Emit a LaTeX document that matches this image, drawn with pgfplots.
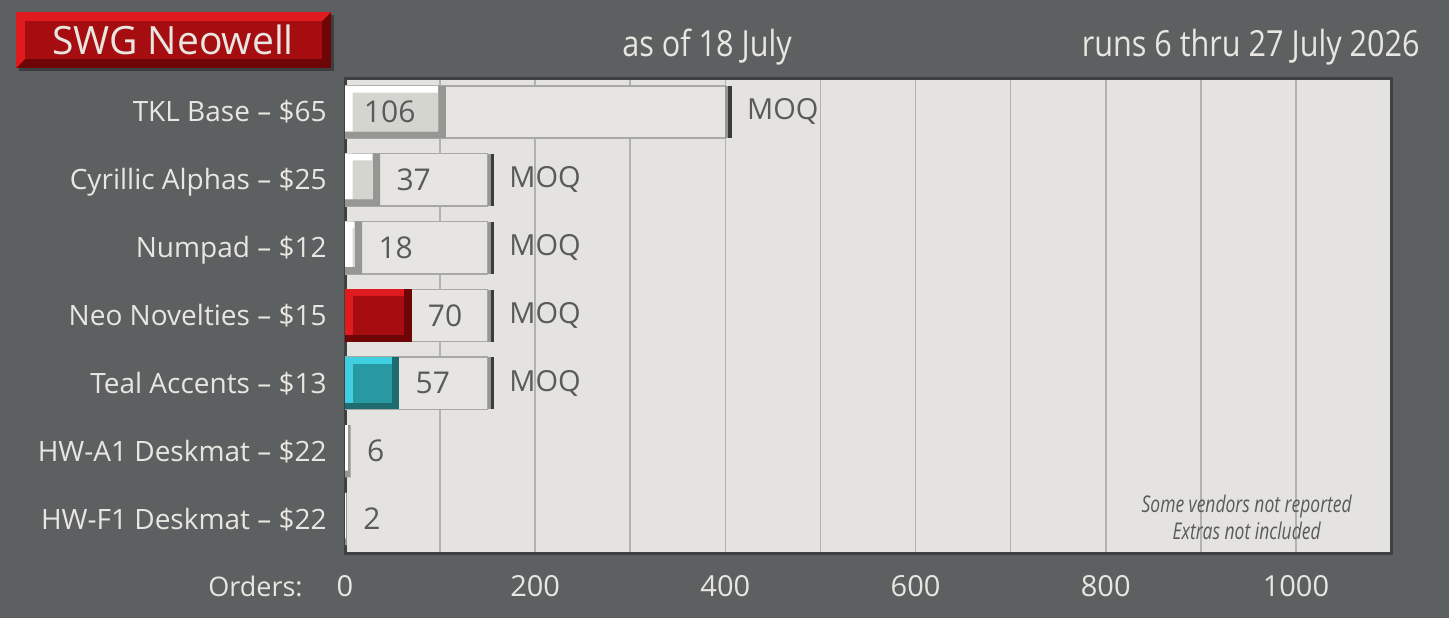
\documentclass[border=0pt]{standalone}
\usepackage{pgfplots}
\pgfplotsset{compat=1.18}
\usepackage{pgfplotstable}
\usepackage{fontspec}
\setmainfont{Open Sans}
\newfontfamily\condfont[FakeStretch=0.85]{Open Sans}
\newfontfamily\notefont[FakeStretch=0.76]{Open Sans}
\definecolor{bg}{RGB}{93,96,97}
\definecolor{lighttext}{RGB}{232,230,224}
\definecolor{plotbg}{RGB}{228,227,223}
\definecolor{gridc}{RGB}{178,178,174}
\definecolor{darktext}{RGB}{88,90,91}
\definecolor{axisc}{RGB}{62,65,66}
\definecolor{moqfill}{RGB}{230,229,225}
\definecolor{moqedge}{RGB}{168,168,164}
\definecolor{capdark}{RGB}{58,61,62}
\definecolor{capgray}{RGB}{150,150,147}
\definecolor{gface}{RGB}{213,213,208}
\definecolor{glight}{RGB}{255,255,255}
\definecolor{gdark}{RGB}{150,150,147}
\definecolor{rface}{RGB}{165,13,16}
\definecolor{rlight}{RGB}{224,27,32}
\definecolor{rdark}{RGB}{110,6,8}
\definecolor{tface}{RGB}{40,152,162}
\definecolor{tlight}{RGB}{62,207,224}
\definecolor{tdark}{RGB}{30,107,112}

\pgfplotstableread{
y v
1 106
2 37
3 18
6 6
7 2
}\graybars
\pgfplotstableread{
y v
4 70
}\redbars
\pgfplotstableread{
y v
5 57
}\tealbars
\pgfplotstableread{
y moq
1 400
2 150
3 150
4 150
5 150
}\moqbars
\pgfplotstableread{
y v
2 37
3 18
4 70
5 57
6 6
7 2
}\labelsout
\pgfplotstableread{
y v
1 106
}\labelsin

\begin{document}
\begin{tikzpicture}[x=1pt,y=1pt]
\fill[bg] (0,0) rectangle (724.5,309);
% title box
\fill[black,opacity=0.35] (9.5,273.5) rectangle (167,301.5);
\fill[rdark] (8,275) rectangle (165.5,303);
\fill[rlight] (8,275) -- (8,303) -- (165.5,303) -- (161,298.5) -- (12.5,298.5) -- (12.5,279.5) -- cycle;
\fill[rface] (12.5,279.5) rectangle (161,298.5);
\node[anchor=base, inner sep=0pt, text=lighttext, font=\fontsize{19.5}{22}\selectfont] at (86.5,282) {SWG Neowell};
\node[anchor=base, inner sep=0pt, text=lighttext, font=\condfont\fontsize{18}{21}\selectfont] at (353.5,281) {as of 18 July};
\node[anchor=base east, inner sep=0pt, text=lighttext, font=\condfont\fontsize{18}{21}\selectfont] at (710,281) {runs 6 thru 27 July 2026};
\node[anchor=base east, inner sep=0pt, text=lighttext, font=\fontsize{13.5}{16}\selectfont] at (151.5,11) {Orders:};
\begin{axis}[
  at={(172.5pt,32.5pt)}, anchor=south west,
  scale only axis, width=523pt, height=237.5pt,
  xmin=0, xmax=1100, ymin=0.5, ymax=7.5, y dir=reverse,
  axis background/.style={fill=plotbg},
  axis line style={axisc, line width=1.5pt},
  xtick={0,200,...,1000}, minor xtick={100,300,...,1100},
  xmajorgrids, xminorgrids,
  major grid style={gridc, line width=0.8pt},
  minor grid style={gridc, line width=0.8pt},
  major tick length=0pt, minor tick length=0pt,
  ytick={1,...,7},
  yticklabels={TKL Base -- \$65, Cyrillic Alphas -- \$25, Numpad -- \$12, Neo Novelties -- \$15, Teal Accents -- \$13, HW-A1 Deskmat -- \$22, HW-F1 Deskmat -- \$22},
  yticklabel style={anchor=base east, inner sep=0pt, xshift=-9pt, yshift=-5pt, text=lighttext, font=\fontsize{14}{16}\selectfont},
  xticklabel style={anchor=base, inner sep=0pt, yshift=-21.5pt, text=lighttext, font=\fontsize{14.5}{16}\selectfont},
  /pgf/number format/assume math mode=true,
  /pgf/number format/1000 sep={},
  clip=true,
]
% MOQ bars
\addplot[xbar, bar width=0.77, bar shift=0pt, fill=moqfill, draw=moqedge, line width=0.75pt,
  nodes near coords={MOQ}, every node near coord/.append style={anchor=west, inner sep=0pt, xshift=10.5pt, text=darktext, font=\fontsize{14.5}{16}\selectfont}]
  table[x=moq, y=y] {\moqbars};
\addplot[only marks, mark=|, mark size=13pt, line width=1.6pt, mark options={capgray, xshift=0.8pt}] table[x=moq, y=y] {\moqbars};
\addplot[only marks, mark=|, mark size=13pt, line width=1.8pt, mark options={capdark, xshift=2.4pt}] table[x=moq, y=y] {\moqbars};
% gray value bars
\addplot[xbar, bar width=0.77, bar shift=0pt, fill=gdark, draw=none] table[x=v, y=y] {\graybars};
\addplot[xbar, bar width=0.67, bar shift=0pt, fill=glight, draw=none] table[x expr=\thisrow{v}-8, y expr=\thisrow{y}-0.05] {\graybars};
\addplot[xbar, bar width=0.57, bar shift=0pt, fill=gface, draw=none] table[x expr=\thisrow{v}-8, y=y] {\graybars};
\addplot[xbar, bar width=0.67, bar shift=0pt, fill=glight, draw=none] table[x expr={min(\thisrow{v}/2,8)}, y expr=\thisrow{y}-0.05] {\graybars};
% red
\addplot[xbar, bar width=0.77, bar shift=0pt, fill=rdark, draw=none] table[x=v, y=y] {\redbars};
\addplot[xbar, bar width=0.67, bar shift=0pt, fill=rlight, draw=none] table[x expr=\thisrow{v}-8, y expr=\thisrow{y}-0.05] {\redbars};
\addplot[xbar, bar width=0.57, bar shift=0pt, fill=rface, draw=none] table[x expr=\thisrow{v}-8, y=y] {\redbars};
\addplot[xbar, bar width=0.67, bar shift=0pt, fill=rlight, draw=none] table[x expr={min(\thisrow{v}/2,8)}, y expr=\thisrow{y}-0.05] {\redbars};
% teal
\addplot[xbar, bar width=0.77, bar shift=0pt, fill=tdark, draw=none] table[x=v, y=y] {\tealbars};
\addplot[xbar, bar width=0.67, bar shift=0pt, fill=tlight, draw=none] table[x expr=\thisrow{v}-8, y expr=\thisrow{y}-0.05] {\tealbars};
\addplot[xbar, bar width=0.57, bar shift=0pt, fill=tface, draw=none] table[x expr=\thisrow{v}-8, y=y] {\tealbars};
\addplot[xbar, bar width=0.67, bar shift=0pt, fill=tlight, draw=none] table[x expr={min(\thisrow{v}/2,8)}, y expr=\thisrow{y}-0.05] {\tealbars};
% value labels
\addplot[xbar, bar width=0.1, bar shift=0pt, draw=none, fill=none, point meta=x,
  nodes near coords, every node near coord/.append style={anchor=west, inner sep=0pt, xshift=8pt, text=darktext, font=\fontsize{15}{17}\selectfont}]
  table[x=v, y=y] {\labelsout};
\addplot[xbar, bar width=0.1, bar shift=0pt, draw=none, fill=none, point meta=x,
  nodes near coords, every node near coord/.append style={anchor=east, inner sep=0pt, xshift=-15pt, text=darktext, font=\fontsize{15}{17}\selectfont}]
  table[x=v, y=y] {\labelsin};
\node[align=center, text=darktext, inner sep=0pt, font=\notefont\itshape\fontsize{11.5}{13.5}\selectfont] at (rel axis cs:0.862,0.075) {Some vendors not reported\\Extras not included};
\end{axis}
\end{tikzpicture}
\end{document}
